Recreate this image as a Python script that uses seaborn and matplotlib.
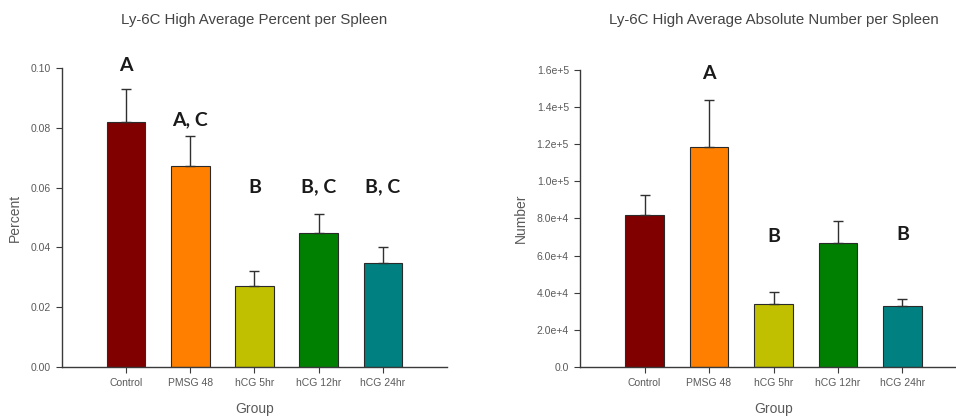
import matplotlib
matplotlib.use("Agg")
import matplotlib.pyplot as plt
import seaborn as sns
import pandas as pd

groups = ["Control", "PMSG 48", "hCG 5hr", "hCG 12hr", "hCG 24hr"]
colors = ["#800000", "#FF8000", "#C0C000", "#008000", "#008080"]

pct_mean = [0.0818, 0.0673, 0.0272, 0.0447, 0.0348]
pct_err = [0.0112, 0.0100, 0.0049, 0.0066, 0.0052]
pct_letters = ["A", "A, C", "B", "B, C", "B, C"]
pct_letter_y = [0.1010, 0.0828, 0.0602, 0.0602, 0.0602]
pct_ticks = [0.00, 0.02, 0.04, 0.06, 0.08, 0.10]
pct_ticklabels = ["0.00", "0.02", "0.04", "0.06", "0.08", "0.10"]

num_mean = [81900, 118400, 33800, 66700, 33100]
num_err = [10800, 25500, 6800, 12000, 3600]
num_letters = ["", "A", "B", "", "B"]
num_letter_y = [0, 158000, 70500, 0, 71500]
num_ticks = [0, 20000, 40000, 60000, 80000, 100000, 120000, 140000, 160000]
num_ticklabels = ["0.0", "2.0e+4", "4.0e+4", "6.0e+4", "8.0e+4", "1.0e+5", "1.2e+5", "1.4e+5", "1.6e+5"]

sns.set_theme(style="white")
plt.rcParams["font.family"] = ["Liberation Sans", "DejaVu Sans"]

fig = plt.figure(figsize=(9.56, 4.19), dpi=100)
ax1 = fig.add_axes([62 / 956, 1 - 367 / 419, 385 / 956, 299 / 419])
ax2 = fig.add_axes([580 / 956, 1 - 367 / 419, 387 / 956, 297 / 419])

grey_text = "#5a5a5a"
spine_c = "#3a3a3a"


def draw(ax, mean, err, letters, letter_y, ticks, ticklabels, ylim, title, ylabel, ylabel_x, title_pad):
    df = pd.DataFrame({"Group": groups, "Value": mean})
    sns.barplot(data=df, x="Group", y="Value", hue="Group", palette=colors,
                order=groups, hue_order=groups, legend=False, width=0.6,
                edgecolor="#2a2a2a", linewidth=0.8, ax=ax, saturation=1)
    ax.errorbar(range(len(groups)), mean, yerr=[[0] * len(err), err], fmt="none",
                ecolor="#303030", elinewidth=1.0, capsize=3.5, capthick=1.0, zorder=5)
    for i, (t, y) in enumerate(zip(letters, letter_y)):
        if t:
            ax.text(i, y, t, ha="center", va="center", fontsize=14, fontweight="bold",
                    family=["Lato", "DejaVu Sans"], color="#1a1a1a", clip_on=False)
    ax.set_xlim(-1, 5)
    ax.set_ylim(*ylim)
    ax.set_yticks(ticks)
    ax.set_yticklabels(ticklabels)
    for s in ["top", "right"]:
        ax.spines[s].set_visible(False)
    for s in ["left", "bottom"]:
        ax.spines[s].set_color(spine_c)
        ax.spines[s].set_linewidth(1.0)
    ax.tick_params(axis="both", which="major", direction="out", length=4, width=0.8,
                   color=spine_c, labelsize=7.5, labelcolor=grey_text, pad=4,
                   left=True, bottom=True)
    ax.set_title(title, fontsize=10.8, color="#444444", pad=title_pad)
    ax.set_ylabel(ylabel, fontsize=10, color=grey_text)
    ax.set_xlabel("Group", fontsize=10, color=grey_text)
    ax.yaxis.set_label_coords(ylabel_x, 0.5)
    ax.xaxis.set_label_coords(0.5, -0.117)
    ax.set_facecolor("white")


draw(ax1, pct_mean, pct_err, pct_letters, pct_letter_y, pct_ticks, pct_ticklabels,
     (0, 0.10), "Ly-6C High Average Percent per Spleen", "Percent", -0.104, 32)
draw(ax2, num_mean, num_err, num_letters, num_letter_y, num_ticks, num_ticklabels,
     (0, 160000), "Ly-6C High Average Absolute Number per Spleen", "Number", -0.134, 33)

fig.savefig("out.png", dpi=100, facecolor="white")
